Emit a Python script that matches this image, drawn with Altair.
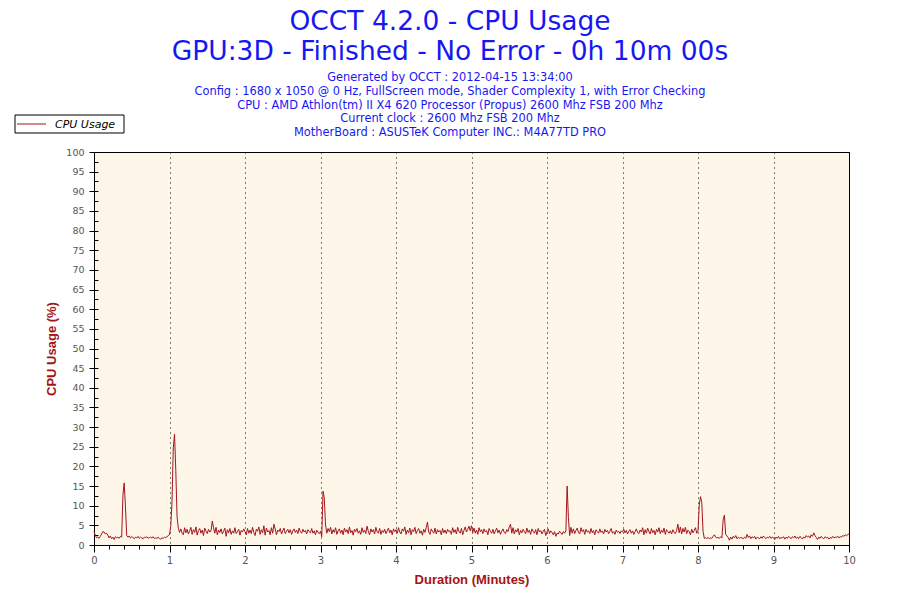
import altair as alt
import pandas as pd

# ---- data: CPU usage (%) sampled once per second, one list per minute ----
MIN0 = [3.5, 2.4, 1.9, 2.0, 1.7, 2.2, 2.8, 3.4, 3.3, 2.8, 3.0, 2.5, 1.8, 2.3, 1.6, 2.0, 1.4, 2.1, 1.8, 2.0,
        1.7, 2.2, 2.0, 12.7, 15.8, 9.7, 2.4, 2.0, 2.3, 1.8, 2.1, 1.9, 1.6, 2.0, 1.8, 2.2, 1.7, 2.0, 1.8, 1.6,
        2.0, 1.9, 2.1, 1.7, 1.9, 2.0, 1.8, 2.1, 1.6, 1.8, 1.7, 2.0, 1.6, 1.5, 1.8, 1.7, 2.0, 1.9, 2.1, 2.4]
MIN1 = [2.6, 4.8, 11.0, 24.7, 28.2, 19.0, 7.2, 4.3, 3.2, 4.1, 3.0, 2.6, 4.4, 3.1, 4.0, 2.8, 3.6, 4.5, 2.7, 3.9,
        3.2, 4.6, 2.5, 3.7, 4.2, 3.0, 3.8, 2.4, 4.3, 3.5, 2.9, 4.0, 3.3, 3.6, 6.1, 4.4, 3.0, 4.5, 2.6, 3.8,
        3.2, 4.1, 2.8, 3.5, 4.3, 2.2, 3.9, 3.1, 4.2, 2.7, 3.6, 3.0, 4.4, 2.9, 3.4, 4.0, 2.5, 3.7, 3.3, 4.1]
MIN2 = [3.4, 2.6, 4.2, 3.0, 3.8, 2.9, 4.5, 3.2, 2.4, 4.0, 3.5, 4.6, 2.7, 3.9, 3.1, 4.9, 2.5, 4.3, 3.3, 3.7,
        2.6, 4.4, 3.0, 5.3, 4.1, 2.6, 3.8, 3.4, 4.2, 2.8, 3.6, 4.3, 2.9, 3.5, 4.0, 3.1, 3.9, 2.7, 3.6, 4.1,
        3.2, 3.8, 2.9, 4.3, 3.4, 3.0, 4.0, 3.3, 3.7, 2.8, 3.9, 3.4, 3.1, 4.2, 3.0, 3.6, 2.6, 3.8, 3.2, 2.9]
MIN3 = [3.5, 2.1, 13.7, 12.0, 5.1, 3.0, 4.2, 3.4, 4.5, 2.8, 3.9, 3.2, 4.4, 2.7, 3.6, 4.1, 3.0, 3.8, 2.6, 4.3,
        3.3, 3.9, 2.9, 4.6, 3.1, 3.7, 2.5, 4.0, 3.4, 4.2, 3.0, 3.6, 2.7, 4.4, 3.2, 3.8, 2.9, 4.8, 3.5, 2.6,
        4.1, 3.3, 3.9, 2.8, 4.5, 3.4, 3.0, 4.2, 2.7, 3.7, 3.2, 4.0, 2.9, 3.6, 4.3, 3.1, 3.8, 2.6, 4.1, 3.4]
MIN4 = [3.9, 3.0, 4.4, 3.3, 2.8, 4.1, 3.5, 4.6, 2.7, 3.8, 3.1, 4.3, 2.6, 3.9, 3.4, 4.5, 2.9, 3.7, 4.2, 3.0,
        3.6, 2.5, 4.0, 3.2, 4.4, 5.8, 3.3, 2.7, 4.1, 3.5, 3.0, 4.3, 2.8, 3.9, 3.3, 3.7, 2.6, 4.2, 3.1, 3.8,
        2.9, 4.0, 3.4, 3.6, 2.7, 4.4, 3.2, 3.9, 2.8, 4.5, 3.5, 3.0, 4.2, 2.6, 3.7, 4.6, 3.3, 4.0, 4.8, 3.6]
MIN5 = [4.9, 3.2, 4.3, 3.0, 3.8, 2.7, 4.4, 3.4, 3.9, 2.9, 4.1, 3.3, 3.7, 2.6, 4.2, 3.5, 3.0, 4.0, 2.8, 3.6,
        4.3, 3.1, 3.8, 2.7, 3.5, 4.1, 3.2, 2.9, 3.9, 3.4, 4.6, 5.3, 3.0, 4.4, 2.8, 3.9, 3.3, 4.2, 2.6, 3.7,
        3.1, 4.0, 3.4, 2.9, 4.3, 3.2, 3.8, 2.7, 4.1, 3.5, 3.0, 3.9, 2.6, 4.2, 3.3, 3.7, 2.8, 3.5, 4.0, 2.4]
MIN6 = [3.3, 4.1, 2.9, 3.6, 3.2, 2.6, 3.4, 2.2, 3.0, 2.8, 3.5, 3.1, 2.7, 3.4, 3.0, 3.6, 15.0, 7.0, 2.4, 4.5,
        3.0, 4.1, 2.9, 3.7, 4.3, 3.2, 2.8, 4.4, 3.4, 3.9, 2.7, 4.0, 3.3, 3.6, 2.9, 4.2, 3.1, 3.7, 2.6, 3.9,
        3.4, 3.0, 4.1, 3.2, 3.6, 2.8, 4.0, 3.3, 3.7, 2.9, 3.5, 4.2, 3.0, 3.4, 2.7, 3.8, 3.2, 3.5, 2.9, 3.6]
MIN7 = [3.3, 4.0, 3.1, 3.7, 2.8, 3.5, 3.9, 3.0, 3.6, 2.7, 3.4, 4.1, 3.2, 2.9, 3.8, 3.3, 4.4, 2.6, 3.9, 3.0,
        4.3, 3.4, 2.8, 4.2, 3.1, 3.7, 2.6, 4.0, 3.3, 4.4, 2.9, 3.8, 3.2, 4.3, 2.7, 3.9, 3.4, 3.0, 3.6, 2.8,
        3.9, 3.2, 2.9, 3.7, 5.3, 3.1, 4.6, 2.8, 4.2, 3.3, 4.5, 2.9, 3.8, 3.4, 2.6, 4.0, 3.1, 3.7, 4.4, 3.0]
MIN8 = [3.6, 10.2, 12.3, 10.8, 3.5, 1.7, 1.8, 1.7, 1.9, 1.6, 1.8, 1.7, 2.2, 2.6, 2.0, 1.8, 1.9, 1.7, 2.1, 1.8,
        6.4, 7.6, 2.7, 2.3, 1.9, 1.2, 2.0, 1.5, 2.2, 1.8, 2.4, 1.6, 2.0, 1.7, 1.9, 1.8, 1.6, 2.0, 1.7, 2.7,
        1.9, 2.3, 1.6, 2.1, 1.8, 2.2, 1.5, 2.0, 1.8, 1.6, 2.1, 1.7, 2.3, 1.9, 1.6, 2.0, 1.8, 2.2, 1.7, 2.0]
MIN9 = [1.9, 1.4, 2.0, 1.7, 2.2, 1.6, 1.9, 1.8, 2.1, 1.5, 2.0, 1.7, 2.2, 1.9, 1.6, 2.1, 1.8, 2.3, 1.7, 2.0,
        1.6, 2.2, 1.9, 1.5, 2.0, 1.8, 2.4, 2.0, 2.3, 1.8, 2.6, 2.2, 3.1, 2.4, 1.9, 1.4, 2.0, 1.7, 2.2, 1.8,
        1.6, 2.1, 1.8, 2.0, 1.5, 1.9, 1.7, 2.2, 1.8, 2.0, 1.9, 2.3, 1.8, 2.1, 2.0, 2.4, 2.2, 2.6, 2.3, 2.7]
LAST = [2.8]  # value at 10:00

X_TICKS = [0, 1, 2, 3, 4, 5, 6, 7, 8, 9, 10]
Y_TICKS = [0, 5, 10, 15, 20, 25, 30, 35, 40, 45, 50, 55, 60, 65, 70, 75, 80, 85, 90, 95, 100]

TITLE_LINES = ["OCCT 4.2.0 - CPU Usage", "GPU:3D - Finished - No Error - 0h 10m 00s"]
SUB_LINES = [
    "Generated by OCCT : 2012-04-15 13:34:00",
    "Config : 1680 x 1050 @ 0 Hz, FullScreen mode, Shader Complexity 1, with Error Checking",
    "CPU : AMD Athlon(tm) II X4 620 Processor (Propus) 2600 Mhz FSB 200 Mhz",
    "Current clock : 2600 Mhz FSB 200 Mhz",
    "MotherBoard : ASUSTeK Computer INC.: M4A77TD PRO",
]
SERIES_NAME = "CPU Usage"

usage = MIN0 + MIN1 + MIN2 + MIN3 + MIN4 + MIN5 + MIN6 + MIN7 + MIN8 + MIN9 + LAST
df = pd.DataFrame({"minute": [s / 60.0 for s in range(len(usage))], "usage": usage})

W, H = 755, 393
LINE_COLOR = "#A3151C"
BLUE = "#1717F2"
AXIS_TITLE_COLOR = "#A31414"
LABEL_COLOR = "#555555"
FONT = "DejaVu Sans"

x_minor = [round(i * 0.2, 1) for i in range(51)]
y_minor = [i * 2.5 for i in range(41)]

xs = alt.Scale(domain=[0, 10], nice=False, zero=False)
ys = alt.Scale(domain=[0, 100], nice=False)

main = alt.Chart(df).mark_line(color=LINE_COLOR, strokeWidth=1).encode(
    x=alt.X("minute:Q", scale=xs, axis=alt.Axis(
        values=X_TICKS, title="Duration (Minutes)", orient="bottom",
        grid=True, gridColor="black", gridDash=[1, 4], gridWidth=1, gridOpacity=1,
        tickSize=7, tickColor="black", domainColor="black",
        labelColor=LABEL_COLOR, labelFont=FONT, labelFontSize=10, labelPadding=3,
        labelFlush=False,
        titleColor=AXIS_TITLE_COLOR, titleFont="Liberation Sans", titleFontSize=13,
        titleFontWeight="bold", titlePadding=8)),
    y=alt.Y("usage:Q", scale=ys, axis=alt.Axis(
        values=Y_TICKS, title="CPU Usage (%)", orient="left", grid=False,
        tickSize=5, tickColor="black", domainColor="black",
        labelColor=LABEL_COLOR, labelFont=FONT, labelFontSize=9.5, labelPadding=5,
        labelFlush=False,
        titleColor=AXIS_TITLE_COLOR, titleFont="Liberation Sans", titleFontSize=13,
        titleFontWeight="bold", titlePadding=7)),
)

minor = alt.Chart(df).mark_line(strokeOpacity=0).encode(
    x=alt.X("minute:Q", scale=xs, axis=alt.Axis(
        values=x_minor, orient="bottom", labels=False, title=None, domain=False,
        grid=False, tickSize=4, tickColor="black")),
    y=alt.Y("usage:Q", scale=ys, axis=alt.Axis(
        values=y_minor, orient="left", labels=False, title=None, domain=False,
        grid=False, tickSize=4, offset=-4, tickColor="black")),
)

one = pd.DataFrame({"k": [0]})
layers = []
title_y = [-122, -92]
for txt, yy in zip(TITLE_LINES, title_y):
    layers.append(alt.Chart(one).mark_text(
        text=txt, font=FONT, fontSize=26.5, color=BLUE, align="center", baseline="alphabetic"
    ).encode(x=alt.value(356), y=alt.value(yy)))
for i, txt in enumerate(SUB_LINES):
    layers.append(alt.Chart(one).mark_text(
        text=txt, font=FONT, fontSize=11.4, color=BLUE, align="center", baseline="alphabetic"
    ).encode(x=alt.value(356), y=alt.value(-71 + i * 13.75)))

legend_box = alt.Chart(one).mark_rect(fill="white", stroke="black", strokeWidth=1).encode(
    x=alt.value(-79), x2=alt.value(30), y=alt.value(-37), y2=alt.value(-19))
legend_line = alt.Chart(one).mark_rule(color=LINE_COLOR, strokeWidth=1).encode(
    x=alt.value(-77), x2=alt.value(-48), y=alt.value(-28))
legend_text = alt.Chart(one).mark_text(
    text=SERIES_NAME, font=FONT, fontSize=11, fontStyle="italic", color="black",
    align="left", baseline="alphabetic").encode(x=alt.value(-39), y=alt.value(-24))

chart = alt.layer(main, minor, *layers, legend_box, legend_line, legend_text).resolve_axis(
    x="independent", y="independent"
).properties(
    width=W, height=H,
    autosize=alt.AutoSizeParams(type="none"),
    padding={"left": 86, "top": 144, "right": 43, "bottom": 47},
    background="white",
).configure_view(
    fill="#FDF6E9", stroke="black", strokeWidth=1
)

chart.save("out.html", embed_options={"renderer": "svg", "actions": False})
